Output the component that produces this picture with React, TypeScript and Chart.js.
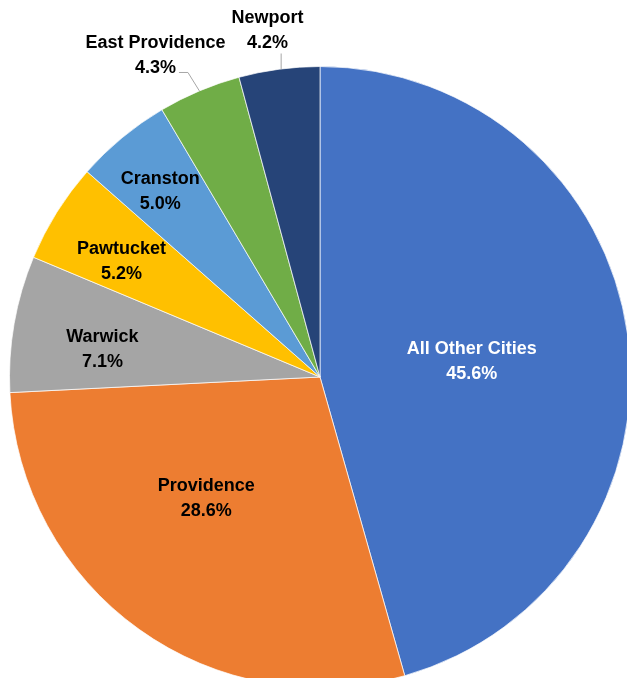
import React, { useEffect, useRef } from "react";
import { Chart, registerables } from "chart.js";

Chart.register(...registerables);

const categories = [
  "All Other Cities",
  "Providence",
  "Warwick",
  "Pawtucket",
  "Cranston",
  "East Providence",
  "Newport",
];
const shares = [45.6, 28.6, 7.1, 5.2, 5.0, 4.3, 4.2];
const colors = ["#4472C4", "#ED7D31", "#A5A5A5", "#FFC000", "#5B9BD5", "#70AD47", "#264478"];
const labelColors = ["#FFFFFF", "#000000", "#000000", "#000000", "#000000", "#000000", "#000000"];
// label placement: fraction of radius along mid-angle, angle shift in degrees, leader style
const labelFrac = [0.492, 0.532, 0.707, 0.742, 0.794, 1.169, 1.135];
const labelShift = [1.5, 7.9, -2.3, -1.5, -0.8, -4.1, -1.0];
const leader = ["", "", "", "", "", "elbow", "vertical"];

const FONT = "bold 18px 'Liberation Sans', Arial, sans-serif";
const LINE_GAP = 25;
const Y_NUDGE = 2;

const labelPlugin = {
  id: "sliceLabels",
  afterDatasetsDraw(chart: any) {
    const ctx = chart.ctx;
    const meta = chart.getDatasetMeta(0);
    ctx.save();
    ctx.font = FONT;
    ctx.textAlign = "center";
    ctx.textBaseline = "middle";
    meta.data.forEach((arc: any, i: number) => {
      const { x, y, startAngle, endAngle, outerRadius } = arc.getProps(
        ["x", "y", "startAngle", "endAngle", "outerRadius"],
        true
      );
      const mid = (startAngle + endAngle) / 2;
      const a = mid + (labelShift[i] * Math.PI) / 180;
      const r = outerRadius * labelFrac[i];
      const cx = x + Math.cos(a) * r;
      const cy = y + Math.sin(a) * r + Y_NUDGE;
      const line1 = categories[i];
      const line2 = shares[i].toFixed(1) + "%";

      if (leader[i]) {
        const ex = x + Math.cos(mid) * outerRadius;
        const ey = y + Math.sin(mid) * outerRadius;
        ctx.strokeStyle = "#A6A6A6";
        ctx.lineWidth = 1;
        ctx.beginPath();
        if (leader[i] === "elbow") {
          const w2 = ctx.measureText(line2).width;
          const endX = cx + w2 / 2 + 3;
          const endY = cy + 17;
          ctx.moveTo(ex, ey);
          ctx.lineTo(endX + 9, endY);
          ctx.lineTo(endX, endY);
        } else {
          ctx.moveTo(ex + 2, ey);
          ctx.lineTo(ex + 2, cy + 23);
        }
        ctx.stroke();
      }

      ctx.fillStyle = labelColors[i];
      ctx.fillText(line1, cx, cy - LINE_GAP / 2);
      ctx.fillText(line2, cx, cy + LINE_GAP / 2);
    });
    ctx.restore();
  },
};

export default function App() {
  const ref = useRef<HTMLCanvasElement | null>(null);

  useEffect(() => {
    if (!ref.current) return;
    const chart = new Chart(ref.current, {
      type: "pie",
      data: {
        labels: categories,
        datasets: [
          {
            data: shares,
            backgroundColor: colors,
            borderColor: "rgba(255,255,255,0.7)",
            borderWidth: 1,
          },
        ],
      },
      options: {
        responsive: false,
        animation: false,
        layout: { padding: { left: 9, right: 9, top: 66, bottom: 12 } },
        plugins: {
          legend: { display: false },
          title: { display: false },
          tooltip: { enabled: false },
        },
      },
      plugins: [labelPlugin],
    });
    return () => chart.destroy();
  }, []);

  return (
    <div
      style={{
        position: "fixed",
        left: 0,
        top: 0,
        width: 627,
        height: 678,
        overflow: "hidden",
        background: "#fff",
      }}
    >
      <canvas ref={ref} width={640} height={700} style={{ width: 640, height: 700, display: "block" }} />
    </div>
  );
}
